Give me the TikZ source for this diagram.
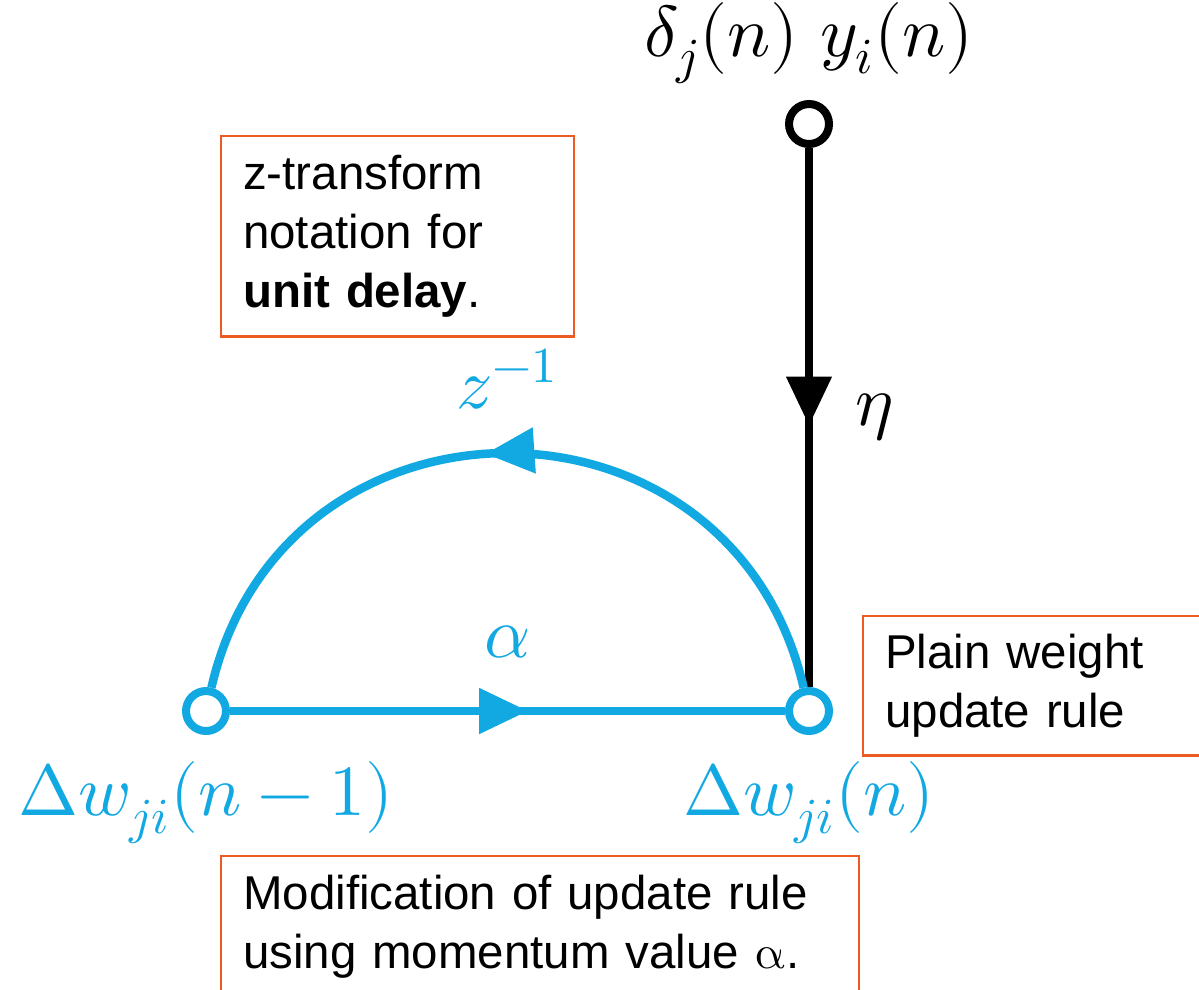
\documentclass[tikz,border=0pt]{standalone}
\usepackage{unicode-math}
\newfontfamily\notefont{Liberation Sans}
\usetikzlibrary{arrows.meta,positioning,decorations.markings}
\definecolor{FlowBlue}{HTML}{12A9E2}
\definecolor{NoteOrange}{HTML}{EE5A24}
\tikzset{
  sfnode/.style={circle,draw,fill=white,line width=.08cm,minimum size=.4cm,inner sep=0pt},
  siglabel/.style={inner sep=0pt,font=\fontsize{20.5}{24}\selectfont},
  note/.style={draw=NoteOrange,line width=.7pt,anchor=north west,align=left,
    font=\notefont\fontsize{13.5}{16.8}\selectfont,inner xsep=.22cm,inner ysep=.19cm},
  midarrow/.style={postaction={decorate},decoration={markings,
    mark=at position #1 with {\arrow{Triangle[length=.49cm,width=.44cm]}}}},
}
\begin{document}
\begin{tikzpicture}
\useasboundingbox (0,0) rectangle (11.99,9.89);
\clip (0,0) rectangle (11.99,9.89);
% signal-flow graph nodes
\node[sfnode,draw=black] (t) at (8.09,8.65) {};
\node[sfnode,draw=FlowBlue] (l) at (2.06,2.78) {};
\node[sfnode,draw=FlowBlue] (r) at (8.09,2.78) {};
\node[siglabel,above=.15cm of t] (tlab) {$\delta_j(n)\ y_i(n)$};
\node[siglabel,text=FlowBlue,below=.26cm of l] (lw) {$\Delta w_{ji}(n-1)$};
\node[siglabel,text=FlowBlue,below=.26cm of r] (rw) {$\Delta w_{ji}(n)$};
% branches
\draw[line width=.078cm,midarrow=.515] (t) -- node[siglabel,right=.43cm] (eta) {$\eta$} (r);
\draw[FlowBlue,line width=.085cm,midarrow=.537] (l) -- node[siglabel,above=.48cm] (alab) {$\alpha$} (r);
\draw[FlowBlue,line width=.085cm,midarrow=.527] (r) to[out=103,in=77,looseness=1.39]
  node[siglabel,above=.39cm] (zlab) {$z^{-1}$} (l);
% notes
\node[note,text width=3.09cm] (zn) at (2.20,8.54) {z-transform\\notation for\\\textbf{unit delay}.};
\node[note,text width=3.3cm,inner ysep=.18cm] (pn) at (8.62,3.74) {Plain weight\\update rule};
\node[note,text width=5.94cm] (mn) at (2.20,1.34) {Modification of update rule\\using momentum value $\upalpha$.};
\end{tikzpicture}
\end{document}
